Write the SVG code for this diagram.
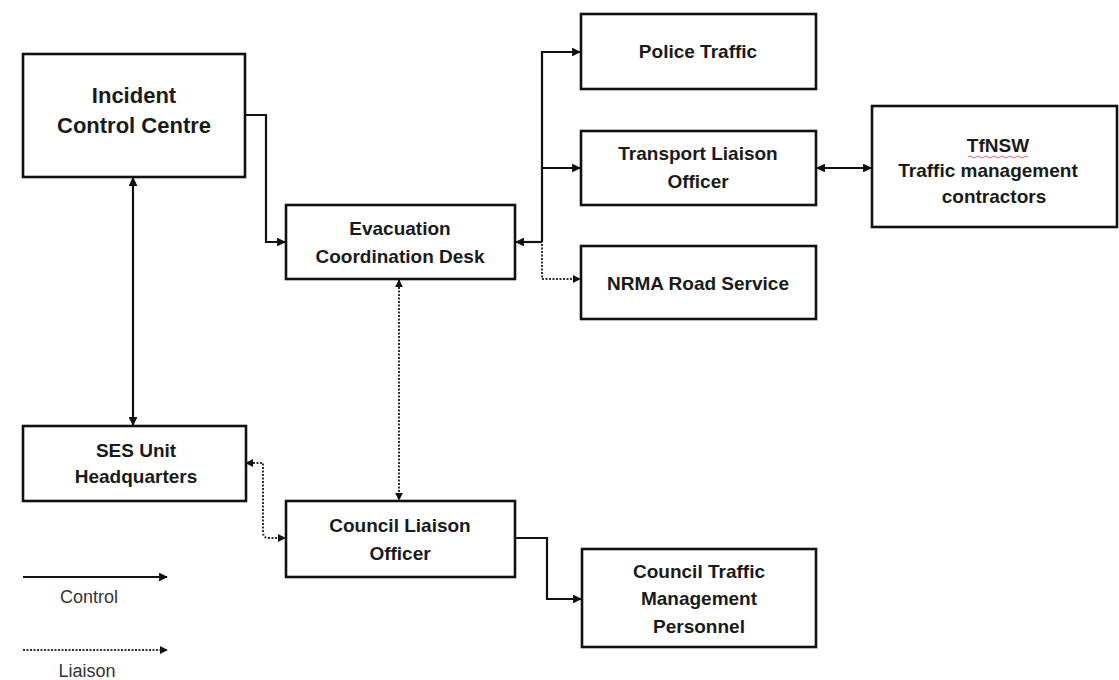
<svg xmlns="http://www.w3.org/2000/svg" width="1119" height="680" viewBox="0 0 1119 680">
  <style>
    .box { fill: #ffffff; stroke: #111111; stroke-width: 2.6; }
    .lbl { font-family: "Liberation Sans", Arial, sans-serif; font-weight: bold; font-size: 19px; fill: #1a1a1a; text-anchor: middle; }
    .big { font-size: 22px; }
    .leg { font-family: "Liberation Sans", Arial, sans-serif; font-size: 18px; fill: #333333; text-anchor: middle; }
    .ctl { fill: none; stroke: #111111; stroke-width: 2.2; }
    .lia { fill: none; stroke: #333333; stroke-width: 2; stroke-dasharray: 2 1.5; }
  </style>
  <defs>
    <marker id="head" viewBox="0 0 10 10" refX="9" refY="5" markerWidth="4" markerHeight="4" orient="auto-start-reverse" markerUnits="strokeWidth">
      <path d="M0,0 L10,5 L0,10 Z" fill="#111111"/>
    </marker>
  </defs>

  <rect width="1119" height="680" fill="#ffffff"/>

  <!-- connectors -->
  <g id="connectors">
    <path class="ctl" d="M245,115 H266 V242 H285" marker-end="url(#head)"/>
    <path class="ctl" d="M542,242 H516" marker-end="url(#head)"/>
    <path class="ctl" d="M542,242 V52 H580" marker-end="url(#head)"/>
    <path class="ctl" d="M542,168 H580" marker-end="url(#head)"/>
    <path class="lia" d="M542,244 V279 H580" marker-end="url(#head)"/>
    <path class="ctl" d="M817,168 H871" marker-start="url(#head)" marker-end="url(#head)"/>
    <path class="ctl" d="M133,178 V425" marker-start="url(#head)" marker-end="url(#head)"/>
    <path class="lia" d="M399,280 V500" marker-start="url(#head)" marker-end="url(#head)"/>
    <path class="lia" d="M246,463 H263 V532 Q263,538 269,538 H285" marker-start="url(#head)" marker-end="url(#head)"/>
    <path class="ctl" d="M515,538 H547 V599 H581" marker-end="url(#head)"/>
  </g>

  <g id="incident-control-centre">
    <rect class="box" x="23" y="54" width="222" height="123"/>
    <text class="lbl big" x="134" y="103">Incident</text>
    <text class="lbl big" x="134" y="133">Control Centre</text>
  </g>

  <g id="evacuation-coordination-desk">
    <rect class="box" x="286" y="205" width="229" height="74"/>
    <text class="lbl" x="400" y="235">Evacuation</text>
    <text class="lbl" x="400" y="263">Coordination Desk</text>
  </g>

  <g id="police-traffic">
    <rect class="box" x="581" y="14" width="235" height="75"/>
    <text class="lbl" x="698" y="58">Police Traffic</text>
  </g>

  <g id="transport-liaison-officer">
    <rect class="box" x="581" y="131" width="235" height="74"/>
    <text class="lbl" x="698" y="160">Transport Liaison</text>
    <text class="lbl" x="698" y="188">Officer</text>
  </g>

  <g id="nrma-road-service">
    <rect class="box" x="581" y="246" width="235" height="73"/>
    <text class="lbl" x="698" y="290">NRMA Road Service</text>
  </g>

  <g id="tfnsw">
    <rect class="box" x="872" y="106" width="245" height="121"/>
    <text class="lbl" x="998" y="152">TfNSW</text>
    <!-- spell-check squiggle under the acronym -->
    <path d="M968,157 q2,-2 4,0 t4,0 t4,0 t4,0 t4,0 t4,0 t4,0 t4,0 t4,0 t4,0 t4,0 t4,0 t4,0 t4,0 t4,0" fill="none" stroke="#e0607a" stroke-width="1"/>
    <text class="lbl" x="988" y="177">Traffic management</text>
    <text class="lbl" x="994" y="203">contractors</text>
  </g>

  <g id="ses-unit-headquarters">
    <rect class="box" x="23" y="426" width="223" height="75"/>
    <text class="lbl" x="136" y="457">SES Unit</text>
    <text class="lbl" x="136" y="483">Headquarters</text>
  </g>

  <g id="council-liaison-officer">
    <rect class="box" x="286" y="501" width="229" height="76"/>
    <text class="lbl" x="400" y="532">Council Liaison</text>
    <text class="lbl" x="400" y="560">Officer</text>
  </g>

  <g id="council-traffic-management">
    <rect class="box" x="582" y="549" width="234" height="98"/>
    <text class="lbl" x="699" y="578">Council Traffic</text>
    <text class="lbl" x="699" y="605">Management</text>
    <text class="lbl" x="699" y="633">Personnel</text>
  </g>

  <g id="legend">
    <path class="ctl" d="M23,577 H167" marker-end="url(#head)"/>
    <text class="leg" x="89" y="603">Control</text>
    <path class="lia" d="M23,650 H167" marker-end="url(#head)"/>
    <text class="leg" x="87" y="677">Liaison</text>
  </g>
</svg>
